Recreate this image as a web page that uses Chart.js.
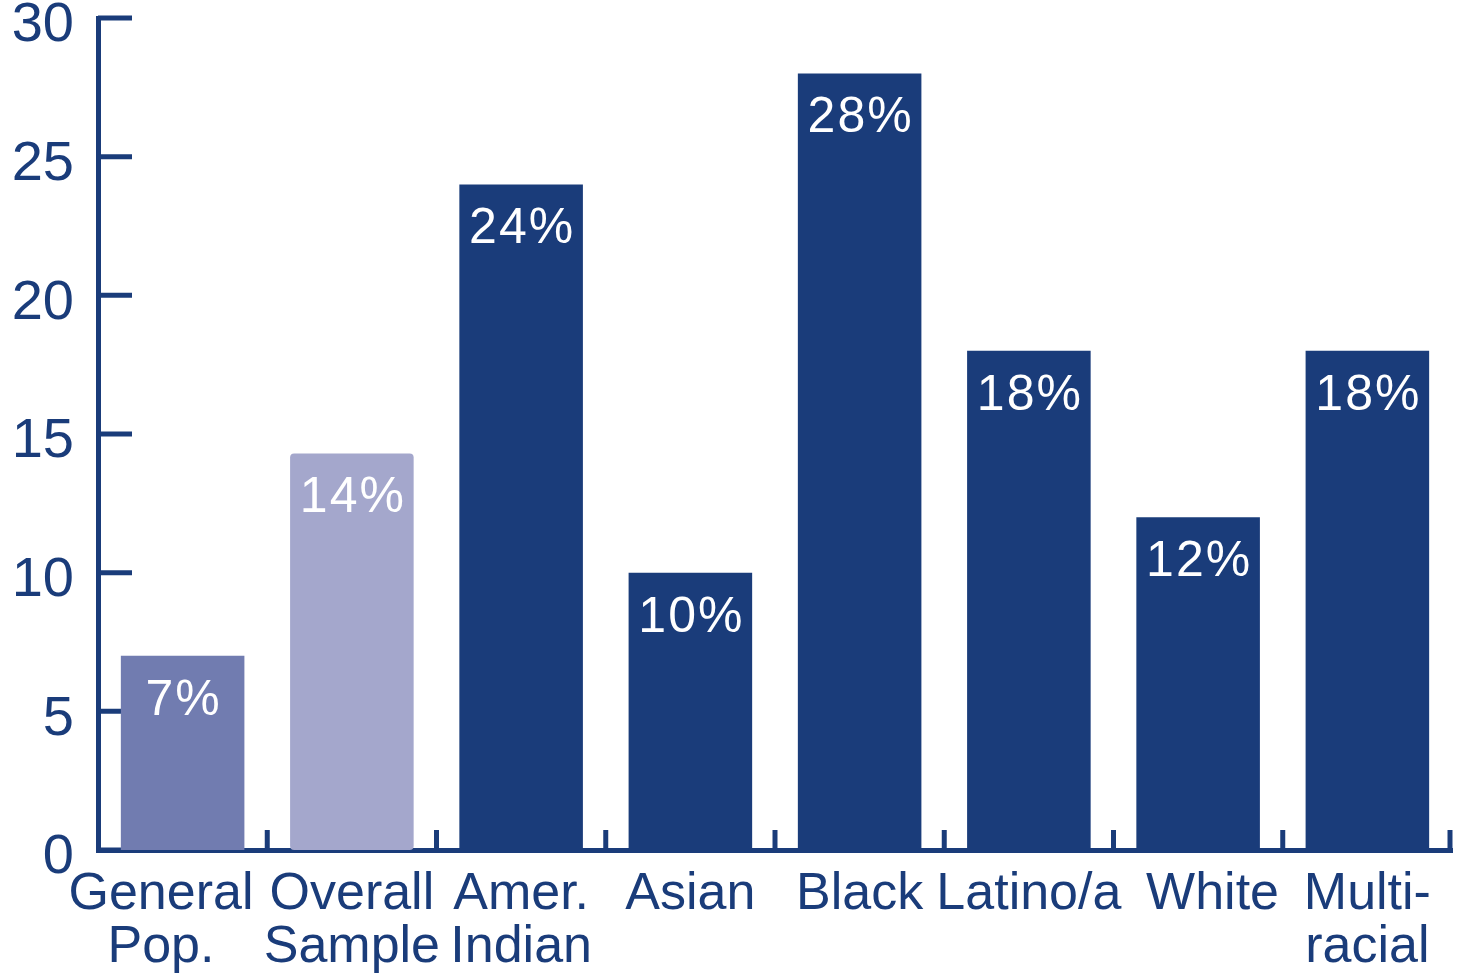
<!DOCTYPE html>
<html>
<head>
<meta charset="utf-8">
<script src="https://cdn.jsdelivr.net/npm/chart.js@4/dist/chart.umd.min.js"></script>
<style>
  html, body { margin: 0; padding: 0; background: #ffffff; }
  #wrap { width: 1459px; height: 975px; }
</style>
</head>
<body>
<div id="wrap"><canvas id="c" width="1459" height="975"></canvas></div>
<script>
// ---- data ----
const categories = [["General   ", "Pop.   "], ["Overall", "Sample"], ["Amer.", "Indian"], "Asian", "Black", "Latino/a", "  White", ["Multi-", "racial"]];
const values = [7, 14.3, 24, 10, 28, 18, 12, 18];
const valueLabels = ["7%", "14%", "24%", "10%", "28%", "18%", "12%", "18%"];
const barColors = ["#717cb0", "#a4a7cc", "#1a3c7a", "#1a3c7a", "#1a3c7a", "#1a3c7a", "#1a3c7a", "#1a3c7a"];
const barRadii = [0, 4, 0, 0, 0, 0, 0, 0];
const yMin = 0, yMax = 30, yStep = 5;

const NAVY = "#1a3c7a";
const FONT = "'Liberation Sans', Arial, Helvetica, sans-serif";

const decor = {
  id: "decor",
  beforeDatasetsDraw(chart) {
    const { ctx, chartArea, scales: { x, y } } = chart;
    ctx.save();
    ctx.strokeStyle = NAVY;
    ctx.lineWidth = 5;
    y.ticks.forEach(t => {
      const py = y.getPixelForValue(t.value);
      ctx.beginPath();
      ctx.moveTo(chartArea.left, py);
      ctx.lineTo(chartArea.left + 34, py);
      ctx.stroke();
    });
    const n = categories.length;
    for (let i = 1; i <= n; i++) {
      let px = i < n ? (x.getPixelForTick(i - 1) + x.getPixelForTick(i)) / 2 : chartArea.right - 2;
      ctx.beginPath();
      ctx.moveTo(px, chartArea.bottom);
      ctx.lineTo(px, chartArea.bottom - 20);
      ctx.stroke();
    }
    ctx.restore();
  },
  afterDatasetsDraw(chart) {
    const { ctx } = chart;
    const meta = chart.getDatasetMeta(0);
    ctx.save();
    ctx.fillStyle = "#ffffff";
    ctx.font = "50px " + FONT;
    if ("letterSpacing" in ctx) ctx.letterSpacing = "2px";
    ctx.textAlign = "center";
    ctx.textBaseline = "alphabetic";
    meta.data.forEach((bar, i) => {
      ctx.fillText(valueLabels[i], bar.x + 1, bar.y + 59);
    });
    ctx.restore();
  }
};

new Chart(document.getElementById("c"), {
  type: "bar",
  data: {
    labels: categories,
    datasets: [{
      data: values,
      backgroundColor: barColors,
      borderRadius: barRadii,
      borderSkipped: false,
      barPercentage: 0.73,
      categoryPercentage: 1.0
    }]
  },
  options: {
    responsive: false,
    animation: false,
    devicePixelRatio: 1,
    layout: { padding: { top: 18, right: 7, bottom: 0, left: 0 } },
    plugins: { legend: { display: false }, tooltip: { enabled: false } },
    scales: {
      x: {
        z: 1,
        offset: true,
        grid: { display: false, drawTicks: false },
        border: { display: true, color: NAVY, width: 5 },
        ticks: {
          color: NAVY,
          font: { family: FONT, size: 52, lineHeight: 1.02 },
          padding: 18,
          maxRotation: 0,
          autoSkip: false
        },
        afterFit(s) { s.height = 125; s.paddingLeft = 0; s.paddingRight = 0; }
      },
      y: {
        min: yMin,
        max: yMax,
        grid: { display: false, drawTicks: false },
        border: { display: true, color: NAVY, width: 5 },
        ticks: {
          stepSize: yStep,
          color: NAVY,
          font: { family: FONT, size: 56 },
          padding: 24,
          labelOffset: 8
        },
        afterFit(s) { s.width = 98; s.paddingTop = 0; s.paddingBottom = 0; }
      }
    }
  },
  plugins: [decor]
});
</script>
</body>
</html>
